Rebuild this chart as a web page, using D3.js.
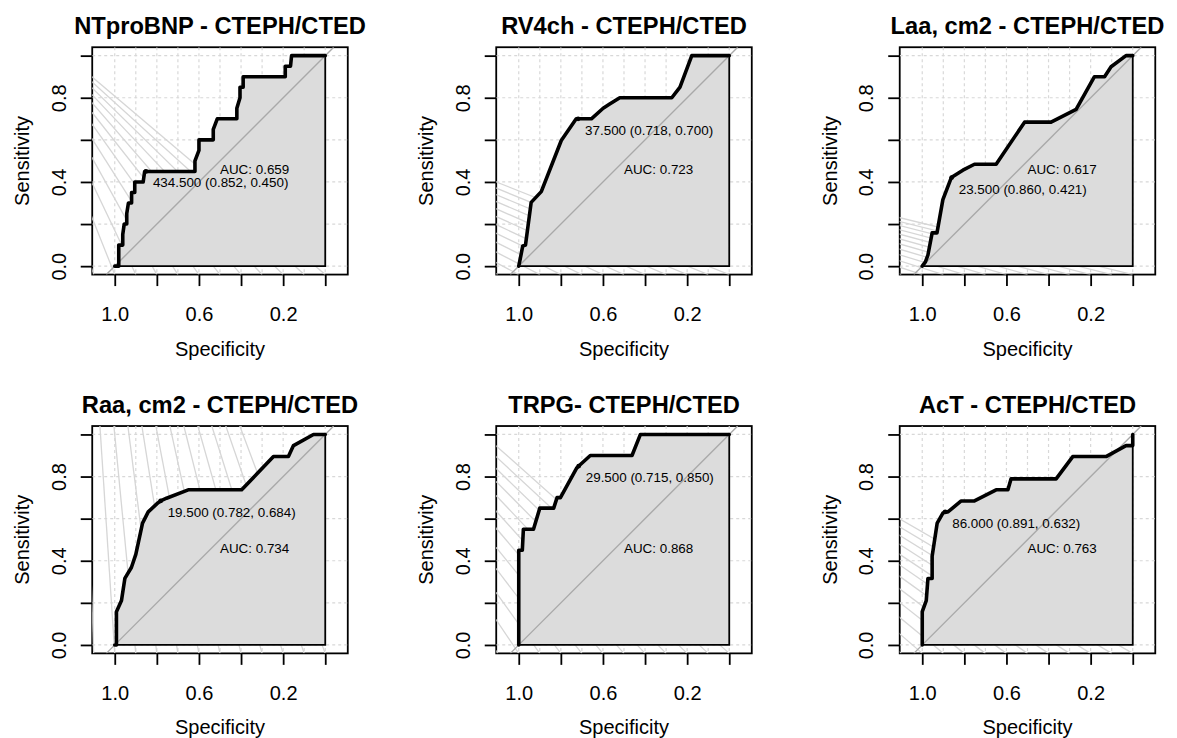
<!DOCTYPE html>
<html><head><meta charset="utf-8">
<script src="https://cdn.jsdelivr.net/npm/d3@7"></script>
<style>
body{margin:0;background:#fff}
svg{display:block}
text{font-family:"Liberation Sans",Arial,Helvetica,sans-serif;fill:#000}
</style>
</head><body>
<svg id="c" width="1177" height="738"></svg>
<script>
// ---------------- data ----------------
const titles = ["NTproBNP - CTEPH/CTED","RV4ch - CTEPH/CTED","Laa, cm2 - CTEPH/CTED",
                "Raa, cm2 - CTEPH/CTED","TRPG- CTEPH/CTED","AcT - CTEPH/CTED"];
const aucLabels = ["AUC: 0.659","AUC: 0.723","AUC: 0.617","AUC: 0.734","AUC: 0.868","AUC: 0.763"];
const thrLabels = ["434.500 (0.852, 0.450)","37.500 (0.718, 0.700)","23.500 (0.860, 0.421)",
                   "19.500 (0.782, 0.684)","29.500 (0.715, 0.850)","86.000 (0.891, 0.632)"];
const thrSpec = [0.852,0.718,0.860,0.782,0.715,0.891];
const thrSens = [0.450,0.700,0.421,0.684,0.850,0.632];

const specNT = [1.000,0.981,0.981,0.962,0.962,0.955,0.943,0.943,0.935,0.920,0.920,0.905,0.905,0.865,0.858,0.852,0.619,0.619,0.600,0.600,0.532,0.532,0.513,0.420,0.420,0.405,0.405,0.390,0.390,0.190,0.190,0.165,0.160,0.000];
const sensNT = [0.00,0.00,0.10,0.10,0.15,0.20,0.20,0.25,0.30,0.30,0.35,0.35,0.40,0.40,0.45,0.45,0.45,0.50,0.55,0.60,0.60,0.65,0.70,0.70,0.75,0.80,0.85,0.85,0.90,0.90,0.95,0.95,1.00,1.00];

const specRV = [1.000,0.990,0.981,0.968,0.941,0.893,0.798,0.727,0.718,0.655,0.599,0.568,0.520,0.273,0.234,0.178,0.000];
const sensRV = [0.000,0.050,0.096,0.100,0.303,0.354,0.597,0.700,0.700,0.700,0.750,0.770,0.800,0.800,0.850,1.000,1.000];

const specLaa = [1.000,0.985,0.973,0.953,0.930,0.902,0.862,0.807,0.752,0.649,0.514,0.388,0.269,0.182,0.134,0.103,0.032,0.000];
const sensLaa = [0.000,0.020,0.053,0.158,0.158,0.316,0.421,0.456,0.484,0.484,0.684,0.684,0.745,0.900,0.900,0.947,1.000,1.000];

const specRaa = [1.000,0.992,0.992,0.968,0.952,0.921,0.900,0.868,0.841,0.794,0.782,0.754,0.651,0.397,0.246,0.175,0.151,0.056,0.000];
const sensRaa = [0.000,0.000,0.158,0.211,0.316,0.368,0.430,0.579,0.632,0.676,0.684,0.697,0.737,0.737,0.895,0.895,0.947,1.000,1.000];

const specTR = [1.000,1.000,0.983,0.978,0.930,0.900,0.834,0.818,0.802,0.725,0.715,0.660,0.462,0.422,0.000];
const sensTR = [0.000,0.450,0.450,0.550,0.550,0.650,0.650,0.700,0.700,0.840,0.850,0.900,0.900,1.000,1.000];

const specAcT = [1.000,1.000,0.981,0.973,0.953,0.953,0.929,0.902,0.891,0.878,0.815,0.752,0.649,0.593,0.578,0.364,0.285,0.127,0.032,0.000,0.000];
const sensAcT = [0.000,0.158,0.211,0.316,0.316,0.421,0.579,0.626,0.632,0.632,0.684,0.684,0.737,0.737,0.789,0.789,0.895,0.895,0.947,0.947,1.000];

const specs = [specNT,specRV,specLaa,specRaa,specTR,specAcT];
const senss = [sensNT,sensRV,sensLaa,sensRaa,sensTR,sensAcT];

const xTickVals = [1.0,0.8,0.6,0.4,0.2,0.0];
const xTickText = ["1.0","","0.6","","0.2",""];
const yTickVals = [0.0,0.2,0.4,0.6,0.8,1.0];
const yTickText = ["0.0","","0.4","","0.8",""];
const gridX = [0,0.1,0.2,0.3,0.4,0.5,0.6,0.7,0.8,0.9,1.0];
const gridY = [0,0.2,0.4,0.6,0.8,1.0];

// light background fan lines: apex (spec, sens) and targets along the bottom
const fanApex = [[1.51,1.24],[4.0,1.55],[4.0,0.936],[1.21,3.18],[2.5,2.185],[3.0,1.69]];
const fanTargets = [0,0.1,0.2,0.3,0.4,0.5,0.6,0.7,0.8,0.9,1.0,1.1];

// ---------------- layout ----------------
const svg = d3.select("#c");
const U = 210.5, EX = 0.107, EY = 0.04;
const W = U*(1+2*EX), H = U*(1+2*EY);
const colCenters = [220, 624, 1027.5], rowCenters = [160.9, 539.7];
const defs = svg.append("defs");

titles.forEach((title, i) => {
  const cx = colCenters[i%3], cy = rowCenters[Math.floor(i/3)];
  const bx = cx - W/2, by = cy - H/2;
  const x = d3.scaleLinear().domain([1+EX, -EX]).range([bx, bx+W]);
  const y = d3.scaleLinear().domain([-EY, 1+EY]).range([by+H, by]);
  const g = svg.append("g");

  // box
  g.append("rect").attr("x",bx).attr("y",by).attr("width",W).attr("height",H)
    .attr("fill","none").attr("stroke","#000").attr("stroke-width",1.8);

  defs.append("clipPath").attr("id","clip"+i).append("rect")
    .attr("x",bx).attr("y",by).attr("width",W).attr("height",H);
  const inner = g.append("g").attr("clip-path",`url(#clip${i})`);

  // grid
  inner.selectAll(".gv").data(gridX).join("line")
    .attr("x1",d=>x(d)).attr("x2",d=>x(d)).attr("y1",by).attr("y2",by+H)
    .attr("stroke","#d8d8d8").attr("stroke-width",1.2).attr("stroke-dasharray","3,3");
  inner.selectAll(".gh").data(gridY).join("line")
    .attr("y1",d=>y(d)).attr("y2",d=>y(d)).attr("x1",bx).attr("x2",bx+W)
    .attr("stroke","#d8d8d8").attr("stroke-width",1.2).attr("stroke-dasharray","3,3");

  // fan lines
  const ap = fanApex[i];
  inner.selectAll(".fan").data(fanTargets).join("line")
    .attr("x1",x(ap[0])).attr("y1",y(ap[1]))
    .attr("x2",d=>x(d)).attr("y2",y(-EY))
    .attr("stroke","#d6d6d6").attr("stroke-width",1.3);

  const pts = specs[i].map((s,k)=>[s, senss[i][k]]);
  // AUC polygon
  const poly = pts.concat([[0,0]]);
  inner.append("path")
    .attr("d", d3.line().x(d=>x(d[0])).y(d=>y(d[1]))(poly) + "Z")
    .attr("fill","#dcdcdc").attr("stroke","#000").attr("stroke-width",1.8);

  // identity line
  const idPts = [[1+EY,-EY],[-EY,1+EY]];
  inner.append("line")
    .attr("x1",x(idPts[0][0])).attr("y1",y(idPts[0][1]))
    .attr("x2",x(idPts[1][0])).attr("y2",y(idPts[1][1]))
    .attr("stroke","#a9a9a9").attr("stroke-width",1.4);

  // ROC curve
  inner.append("path")
    .attr("d", d3.line().x(d=>x(d[0])).y(d=>y(d[1]))(pts))
    .attr("fill","none").attr("stroke","#000").attr("stroke-width",3.6)
    .attr("stroke-linejoin","round").attr("stroke-linecap","round");

  // threshold point
  g.append("circle").attr("cx",x(thrSpec[i])).attr("cy",y(thrSens[i])).attr("r",2.4).attr("fill","#000");

  // texts
  g.append("text").attr("x",x(thrSpec[i])+7).attr("y",y(thrSens[i])+16)
    .attr("font-size",13.4).text(thrLabels[i]);
  g.append("text").attr("x",x(0.5)).attr("y",y(0.5)+13.5)
    .attr("font-size",13.4).text(aucLabels[i]);

  // title
  g.append("text").attr("x",cx).attr("y",by-13.5).attr("text-anchor","middle")
    .attr("font-size",23.7).attr("font-weight","bold").text(title);

  // x axis
  const xa = g.append("g").attr("transform",`translate(0,${by+H})`)
    .call(d3.axisBottom(x).tickValues(xTickVals).tickSize(11.5).tickPadding(20.5)
      .tickFormat((d,k)=>xTickText[k]));
  xa.select(".domain").remove();
  xa.selectAll("line").attr("stroke","#000").attr("stroke-width",1.8);
  xa.selectAll("text").attr("font-size",20).attr("font-family",null).attr("fill","#000");
  xa.attr("font-family",null);

  // y axis
  const ya = g.append("g").attr("transform",`translate(${bx},0)`)
    .call(d3.axisLeft(y).tickValues(yTickVals).tickSize(11.5).tickFormat((d,k)=>yTickText[k]));
  ya.select(".domain").remove();
  ya.attr("font-family",null);
  ya.selectAll("line").attr("stroke","#000").attr("stroke-width",1.8);
  ya.selectAll("text").attr("font-size",20).attr("fill","#000")
    .attr("x",0).attr("y",0).attr("dy",null).attr("text-anchor","middle")
    .attr("transform","translate(-26.7,0) rotate(-90)");

  // axis titles
  g.append("text").attr("x",cx).attr("y",by+H+81).attr("text-anchor","middle")
    .attr("font-size",20).text("Specificity");
  g.append("text").attr("text-anchor","middle").attr("font-size",20)
    .attr("transform",`translate(${bx-63},${cy}) rotate(-90)`).text("Sensitivity");
});
</script>
</body></html>
